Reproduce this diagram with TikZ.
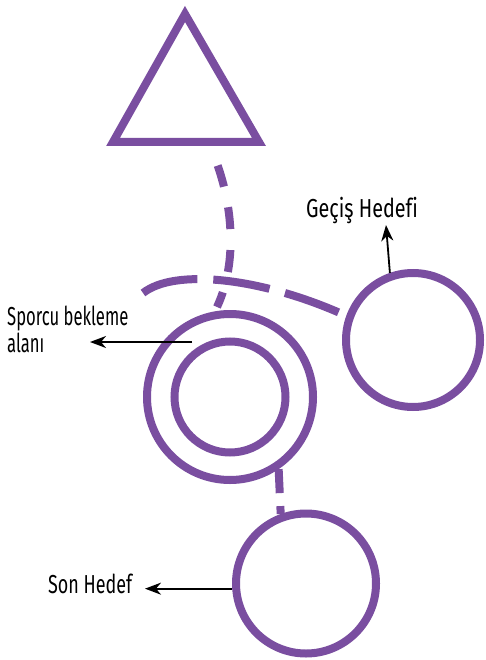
\documentclass[tikz,border=0pt]{standalone}
\usepackage{fontspec}
\setmainfont[FakeStretch=0.72,Ligatures=NoCommon]{Fira Sans}
\newfontfamily\fgec[FakeStretch=0.76,Ligatures=NoCommon]{Fira Sans}
\newfontfamily\fspo[FakeStretch=0.64,Ligatures=NoCommon]{Fira Sans}
\newfontfamily\fson[FakeStretch=0.69,Ligatures=NoCommon]{Fira Sans}
\usetikzlibrary{arrows.meta}
\definecolor{vio}{RGB}{122,78,160}
\tikzset{
  ring/.style={circle, draw=vio, line width=8pt, inner sep=0pt},
  vline/.style={draw=vio, line width=8pt},
  arr/.style={draw=black, line width=1.8pt, -{Stealth[length=16pt,width=12pt,inset=5pt]}},
  lbl/.style={inner sep=0pt, text=black}
}
\begin{document}
\begin{tikzpicture}[x=1pt,y=-1pt]
\useasboundingbox (0,0) rectangle (485,660);
% triangle
\coordinate (ta) at (185,14);
\coordinate (tl) at (113,142);
\coordinate (tr) at (259,142);
\draw[vline, line join=miter] (ta) -- (tr) -- (tl) -- cycle;
% circles
\node[ring, minimum size=166pt] (wo) at (230,397) {};
\node[ring, minimum size=111pt] (wi) at (230,397) {};
\node[ring, minimum size=134pt] (g) at (413,340) {};
\node[ring, minimum size=140pt] (s) at (306,583.5) {};
% dashed paths
\coordinate (d1) at (210,146);
\coordinate (d2) at (217,307);
\draw[vline, dash pattern=on 22pt off 21pt, dash phase=22pt] (d1) .. controls (234,200) and (238,262) .. (d2);
\coordinate (a1) at (143,293);
\coordinate (a2) at (340,313);
\draw[vline, dash pattern=on 57pt off 16pt] (a1) .. controls (175,268) and (260,278) .. (a2);
\draw[vline, dash pattern=on 24pt off 13pt] (wo.-56) -- (s.110);
% labels
\node[lbl, anchor=base west, font=\fgec\fontsize{26}{26}\selectfont] (tg) at (306,217) {Geçiş Hedefi};
\node[lbl, anchor=base west, align=left, font=\fspo\fontsize{26}{25}\selectfont] (tsp) at (7,352) {Sporcu bekleme\\alanı};
\node[lbl, anchor=base west, font=\fson\fontsize{26}{26}\selectfont] (ts) at (48,593) {Son Hedef};
% arrows
\coordinate (ga) at (386,225);
\draw[arr] (g.109) -- (ga);
\coordinate (sa0) at (192,342);
\coordinate (sa1) at (90,342);
\draw[arr] (sa0) -- (sa1);
\coordinate (sn) at (145,588);
\draw[arr] (s.184) -- (sn |- s.184);
\end{tikzpicture}
\end{document}
